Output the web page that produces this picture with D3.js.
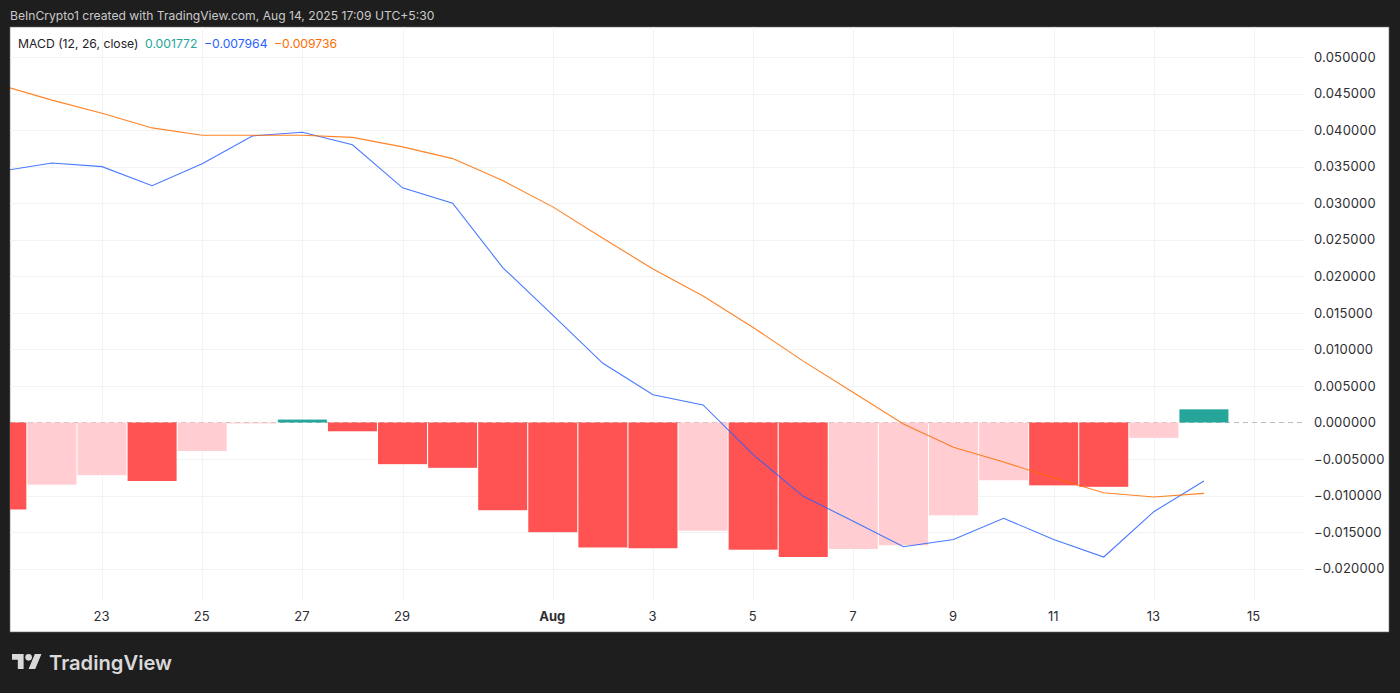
<!DOCTYPE html>
<html>
<head>
<meta charset="utf-8">
<script src="https://cdn.jsdelivr.net/npm/d3@7/dist/d3.min.js"></script>
<style>
html,body{margin:0;padding:0;background:#1e1e1e;overflow:hidden}
svg{display:block}
text{font-family:Inter,"Liberation Sans",sans-serif}
</style>
</head>
<body>
<svg id="c" width="1400" height="693"></svg>
<script>
const dates = ["2025-07-21","2025-07-22","2025-07-23","2025-07-24","2025-07-25","2025-07-26","2025-07-27","2025-07-28","2025-07-29","2025-07-30","2025-07-31","2025-08-01","2025-08-02","2025-08-03","2025-08-04","2025-08-05","2025-08-06","2025-08-07","2025-08-08","2025-08-09","2025-08-10","2025-08-11","2025-08-12","2025-08-13","2025-08-14"];
const macdValues = [0.0344,0.0355,0.0350,0.0324,0.0354,0.0392,0.0397,0.0380,0.0321,0.0300,0.0212,0.0147,0.0081,0.0038,0.0024,-0.0044,-0.0101,-0.0135,-0.0170,-0.0160,-0.0131,-0.0160,-0.0184,-0.0122,-0.0080];
const signalValues = [0.0461,0.0441,0.0423,0.0403,0.0393,0.0393,0.0393,0.0390,0.0377,0.0361,0.0331,0.0295,0.0252,0.0210,0.0173,0.0130,0.0084,0.0041,-0.0002,-0.0034,-0.0054,-0.0076,-0.0096,-0.0102,-0.0097];
const histValues = [-0.0119,-0.0085,-0.0072,-0.0080,-0.0039,-0.0001,0.0004,-0.0012,-0.0057,-0.0062,-0.0120,-0.0150,-0.0171,-0.0172,-0.0148,-0.0174,-0.0184,-0.0173,-0.0168,-0.0127,-0.0079,-0.0086,-0.0088,-0.0021,0.0018];
const yTicks = [0.05,0.045,0.04,0.035,0.03,0.025,0.02,0.015,0.01,0.005,0,-0.005,-0.01,-0.015,-0.02];
const xTickDates = ["2025-07-23","2025-07-25","2025-07-27","2025-07-29","2025-08-01","2025-08-03","2025-08-05","2025-08-07","2025-08-09","2025-08-11","2025-08-13","2025-08-15"];
const xTickLabels = ["23","25","27","29","Aug","3","5","7","9","11","13","15"];
const headerText = "BeInCrypto1 created with TradingView.com, Aug 14, 2025 17:09 UTC+5:30";
const legendName = "MACD (12, 26, close)";
const legendValues = ["0.001772","\u22120.007964","\u22120.009736"];

const C = {bg:"#1e1e1e",grid:"#f2f3f5",zero:"#bcbcc0",text:"#2e2e33",up:"#26a69a",dn:"#ff5252",dnLight:"#ffcdd2",macd:"#2962ff",sig:"#ff6d00"};
const svg = d3.select("#c");
const P = {l:10,r:1389,t:27,b:632,plotR:1304,plotB:600};
const parse = d3.utcParse("%Y-%m-%d");
const x = d3.scaleUtc().domain([parse("2025-07-21"),parse("2025-08-16")]).range([1.83,1304.1]);
const y = d3.scaleLinear().domain([0,0.05]).range([422.5,57]);

svg.append("rect").attr("x",P.l).attr("y",P.t).attr("width",P.r-P.l).attr("height",P.b-P.t)
  .attr("fill","#fff").attr("stroke","#6f6f6f").attr("stroke-width",0.6);
svg.append("defs").append("clipPath").attr("id","clip").append("rect")
  .attr("x",P.l).attr("y",P.t).attr("width",P.plotR-P.l).attr("height",P.b-P.t);
const g = svg.append("g").attr("clip-path","url(#clip)");

// grid
g.selectAll("line.h").data(yTicks.filter(d=>d!==0)).join("line").attr("class","h")
  .attr("x1",P.l).attr("x2",P.plotR).attr("y1",d=>Math.round(y(d))+.5).attr("y2",d=>Math.round(y(d))+.5)
  .attr("stroke",C.grid);
g.selectAll("line.v").data(xTickDates).join("line").attr("class","v")
  .attr("y1",P.t).attr("y2",P.plotB).attr("x1",d=>Math.round(x(parse(d)))+.5).attr("x2",d=>Math.round(x(parse(d)))+.5)
  .attr("stroke",C.grid);
g.append("line").attr("x1",P.l).attr("x2",P.plotR).attr("y1",y(0)).attr("y2",y(0))
  .attr("stroke",C.zero).attr("stroke-dasharray","5 4");

// histogram
const rows = dates.map((d,i)=>({date:parse(d),m:macdValues[i],s:signalValues[i],h:histValues[i],prev:i?histValues[i-1]:0}));
const barW = 49;
g.selectAll("rect.bar").data(rows).join("rect").attr("class","bar")
  .attr("x",d=>x(d.date)-barW/2).attr("width",barW)
  .attr("y",d=>Math.min(y(0),y(d.h))).attr("height",d=>Math.max(1,Math.abs(y(d.h)-y(0))))
  .attr("fill",d=>d.h>=0?C.up:(d.h<d.prev?C.dn:C.dnLight));

// lines
const line = k=>d3.line().x(d=>x(d.date)).y(d=>y(d[k]));
g.append("path").datum(rows).attr("d",line("m")).attr("fill","none").attr("stroke",C.macd).attr("stroke-width",1.1).attr("stroke-opacity",0.85);
g.append("path").datum(rows).attr("d",line("s")).attr("fill","none").attr("stroke",C.sig).attr("stroke-width",1.1).attr("stroke-opacity",0.85);

// axes
const yAxis = d3.axisRight(y).tickValues(yTicks).tickSize(0).tickPadding(0)
  .tickFormat(d=>(d<0?"\u2212":"")+Math.abs(d).toFixed(6));
const ya = svg.append("g").attr("transform","translate(1314,0)").call(yAxis);
ya.select(".domain").remove();
ya.selectAll("text").attr("font-size",13).attr("fill",C.text).style("letter-spacing","0.2px");

const xAxis = d3.axisBottom(x).tickValues(xTickDates.map(parse)).tickSize(0).tickPadding(0)
  .tickFormat((d,i)=>xTickLabels[i]);
const xa = svg.append("g").attr("transform","translate(-1,612)").call(xAxis);
xa.select(".domain").remove();
xa.selectAll("text").attr("font-size",13).attr("fill",C.text)
  .attr("font-weight",(d,i)=>xTickLabels[i]==="Aug"?700:400);

// header & legend
svg.append("text").attr("x",10).attr("y",20).attr("font-size",12.14).attr("fill","#c9c9c9").text(headerText);
svg.append("text").attr("x",18).attr("y",47.5).attr("font-size",12.2).attr("fill","#1f2126").text(legendName);
const legendColors = ["#26a69a",C.macd,C.sig], legendX = [145,204,274];
svg.selectAll("text.lv").data(legendValues).join("text").attr("class","lv")
  .attr("x",(d,i)=>legendX[i]).attr("y",47.5).attr("font-size",12.2)
  .attr("fill",(d,i)=>legendColors[i]).text(d=>d);

// brand mark
const logo = svg.append("g").attr("transform","translate(12,650.7) scale(0.83)").attr("fill","#d9d9d9");
logo.append("path").attr("d","M14 22H7V11H0V4h14v18zM28 22h-8l7.5-18h8L28 22z");
logo.append("circle").attr("cx",20).attr("cy",8).attr("r",4);
svg.append("text").attr("x",49).attr("y",669.5).attr("font-size",20.2).attr("font-weight",600)
  .attr("fill","#d9d9d9").text("TradingView");
</script>
</body>
</html>
